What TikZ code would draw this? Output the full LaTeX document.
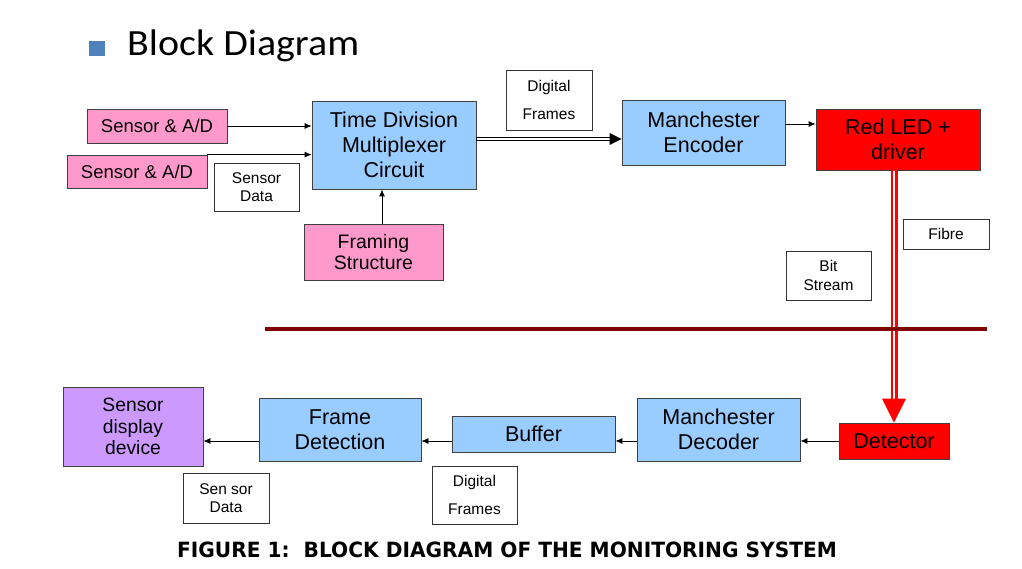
\documentclass[tikz,border=0pt]{standalone}
\usepackage{fontspec}
\setmainfont{Liberation Sans}
\newfontfamily\titlefont{Carlito}
\newfontfamily\capfont{DejaVu Sans}
\usepackage{tikz}
\usetikzlibrary{arrows.meta, positioning, calc}

\definecolor{sensorpink}{HTML}{FF99CC}
\definecolor{blockblue}{HTML}{99CCFF}
\definecolor{ledred}{HTML}{FF0000}
\definecolor{displaypurple}{HTML}{CC99FF}
\definecolor{bulletblue}{HTML}{4F81BD}
\definecolor{splitred}{HTML}{800000}

\tikzset{
    box/.style={draw=black!75, line width=0.8pt, inner sep=0pt, align=center},
    sensorbox/.style={box, fill=sensorpink, font=\fontsize{18.5}{22}\selectfont},
    procbox/.style={box, fill=blockblue, font=\fontsize{21.5}{25}\selectfont},
    ledbox/.style={box, fill=ledred, font=\fontsize{21.5}{25}\selectfont},
    tagbox/.style={draw=black!80, line width=0.8pt, inner sep=0pt, align=center, fill=white, font=\fontsize{15.5}{18.5}\selectfont},
    sig/.style={-{Latex[length=7pt,width=6pt]}, line width=0.8pt}
}

\begin{document}
\begin{tikzpicture}[x=1pt, y=-1pt]

    % 0. Page frame (pixel grid, y downwards)
    \fill[white] (0,0) rectangle (1022,569);
    \useasboundingbox (0,0) rectangle (1022,569);

    % 1. Heading with bullet
    \fill[bulletblue] (89,41) rectangle (105,56);
    \node[anchor=base west, inner sep=0pt, xscale=1.08, transform shape, font=\titlefont\fontsize{37}{40}\selectfont] (title) at (127,56) {Block Diagram};

    % 2. Transmitter side
    \node[sensorbox, minimum width=140pt, minimum height=34pt] (s1) at (157,126) {Sensor \& A/D};
    \node[sensorbox, minimum width=140pt, minimum height=33pt] (s2) at (137,171.5) {Sensor \& A/D};
    \node[tagbox, minimum width=85pt, minimum height=48pt] (sdata) at (256.5,187) {Sensor\\Data};
    \node[procbox, minimum width=164pt, minimum height=88pt] (tdm) at (394,145) {Time Division\\Multiplexer\\Circuit};
    \node[sensorbox, minimum width=139pt, minimum height=56pt, font=\fontsize{19.5}{21}\selectfont] (fram) at (373.5,252) {Framing\\Structure};
    \node[tagbox, minimum width=86pt, minimum height=60pt, font=\fontsize{15.5}{28}\selectfont] (dframes) at (549,100) {Digital\\Frames};
    \node[procbox, minimum width=163pt, minimum height=65pt] (me) at (703.5,132.5) {Manchester\\Encoder};
    \node[ledbox, minimum width=164pt, minimum height=61pt] (led) at (898,139.5) {Red LED +\\driver};

    % inputs into the multiplexer
    \draw[sig] (s1.east) -- (s1.east -| tdm.west);
    \draw[sig] (s2.north east) -- (s2.north east -| tdm.west);
    \draw[sig] ([xshift=8.5pt]fram.north) -- ([xshift=8.5pt]fram.north |- tdm.south);

    % double line: frames to encoder
    \coordinate (dstart) at ([yshift=6pt]tdm.east);
    \coordinate (dend) at (dstart -| me.west);
    \draw[line width=3.6pt, shorten >=10pt] (dstart) -- (dend);
    \draw[white, line width=1.4pt, shorten >=10pt, shorten <=0.8pt] (dstart) -- (dend);
    \fill (dend) -- ++(-12,6) -- ++(0,-12) -- cycle;

    \draw[sig] ([yshift=8.5pt]me.east) -- ([yshift=8.5pt]me.east -| led.west);

    % 3. Fibre link
    \node[tagbox, minimum width=86pt, minimum height=30pt] (fibre) at (946,234) {Fibre};
    \node[tagbox, minimum width=85pt, minimum height=49pt] (bits) at (828.5,275.5) {Bit\\Stream};

    % 4. Receiver side
    \node[ledbox, minimum width=110pt, minimum height=36pt] (det) at (894,441) {Detector};
    \node[procbox, minimum width=163pt, minimum height=63pt] (md) at (718.5,429.5) {Manchester\\Decoder};
    \node[procbox, minimum width=163pt, minimum height=36pt] (buf) at (533.5,434) {Buffer};
    \node[procbox, minimum width=162pt, minimum height=63pt] (fd) at (340,429.5) {Frame\\Detection};
    \node[box, fill=displaypurple, minimum width=140pt, minimum height=79pt, font=\fontsize{19.3}{21.5}\selectfont] (sdd) at (133,426.5) {Sensor\\display\\device};
    \node[tagbox, minimum width=86pt, minimum height=50pt] (sdata2) at (226,498) {Sen sor\\Data};
    \node[tagbox, minimum width=85pt, minimum height=58pt, font=\fontsize{15.5}{28}\selectfont] (dframes2) at (474.5,495) {Digital\\Frames};

    % fibre from LED down to detector
    \coordinate (ftop) at (det.north |- led.south);
    \draw[ledred, line width=7pt, shorten >=24pt] (ftop) -- (det.north);
    \draw[white, line width=2.4pt, shorten >=24pt, shorten <=0.5pt] (ftop) -- (det.north);
    \fill[ledred] (det.north) -- ++(-12,-24) -- ++(24,0) -- cycle;

    % separator between the two sides
    \draw[splitred, line width=4pt] (265,329) -- (987,329);

    % chain back to the display
    \draw[sig] (det.west) -- (det.west -| md.east);
    \draw[sig] (det.west -| md.west) -- (det.west -| buf.east);
    \draw[sig] (det.west -| buf.west) -- (det.west -| fd.east);
    \draw[sig] (det.west -| fd.west) -- (det.west -| sdd.east);

    % 5. Caption
    \node[anchor=base, inner sep=0pt, xscale=0.96, transform shape, font=\capfont\bfseries\fontsize{21}{23}\selectfont] (caption) at (507,557) {FIGURE 1:\ \ BLOCK DIAGRAM OF THE MONITORING SYSTEM};

\end{tikzpicture}
\end{document}
